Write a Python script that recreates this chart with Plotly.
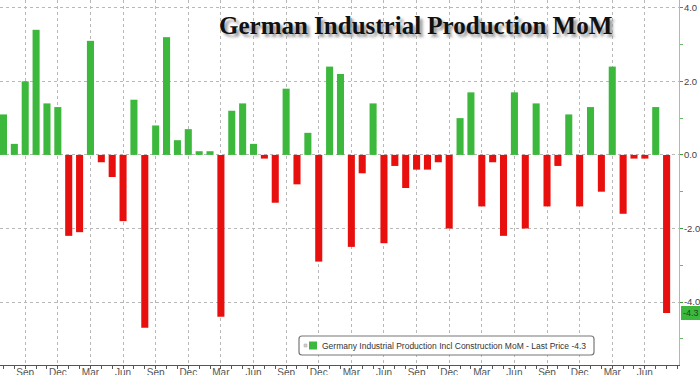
import plotly.graph_objects as go

# Monthly values (Jul of year 1 through Aug of year 6)
month_names = ["Jul", "Aug", "Sep", "Oct", "Nov", "Dec", "Jan", "Feb", "Mar", "Apr", "May", "Jun"]
values = [
    1.1, 0.3, 2.0, 3.4, 1.4, 1.3,
    -2.2, -2.1, 3.1, -0.2, -0.6, -1.8,
    1.5, -4.7, 0.8, 3.2, 0.4, 0.7,
    0.1, 0.1, -4.4, 1.2, 1.4, 0.3,
    -0.1, -1.3, 1.8, -0.8, 0.6, -2.9,
    2.4, 2.2, -2.5, -0.5, 1.4, -2.4,
    -0.3, -0.9, -0.4, -0.4, -0.2, -2.0,
    1.0, 1.7, -1.4, -0.2, -2.2, 1.7,
    -2.0, 1.4, -1.4, -0.3, 1.1, -1.4,
    1.3, -1.0, 2.4, -1.6, -0.1, -0.1,
    1.3, -4.3,
]
months = [month_names[i % 12] for i in range(len(values))]
labeled_months = ["Sep", "Dec", "Mar", "Jun"]
y_ticks = [4.0, 2.0, 0.0, -2.0, -4.0]
last_price = values[-1]
series_name = "Germany Industrial Production Incl Construction MoM - Last Price %.1f" % last_price
title_text = "German Industrial Production MoM"

GREEN = "#3cb83c"
RED = "#e8100e"

# plot area in pixels (for placing the legend box)
W, H = 700, 375
ML, MR, MT, MB = 0, 21, 0, 10
PW, PH = W - ML - MR, H - MT - MB


def px(xp):
    return (xp - ML) / PW


def py(yp):
    return (H - MB - yp) / PH


x = list(range(len(values)))
colors = [GREEN if v >= 0 else RED for v in values]
tickvals = [i for i, m in enumerate(months) if m in labeled_months]
ticktext = [months[i] for i in tickvals]

fig = go.Figure()
fig.add_trace(go.Bar(
    x=x, y=values, name=series_name,
    marker=dict(color=colors, line=dict(width=0)),
    width=0.65, showlegend=False,
))

# rounded legend box
x0, x1, y0, y1, r = 299, 594, 336, 355, 3
rx, ry = r / PW, r / PH
X0, X1, Y0, Y1 = px(x0), px(x1), py(y1), py(y0)
path = (f"M {X0+rx},{Y0} L {X1-rx},{Y0} Q {X1},{Y0} {X1},{Y0+ry} "
        f"L {X1},{Y1-ry} Q {X1},{Y1} {X1-rx},{Y1} L {X0+rx},{Y1} "
        f"Q {X0},{Y1} {X0},{Y1-ry} L {X0},{Y0+ry} Q {X0},{Y0} {X0+rx},{Y0} Z")

shapes = [
    dict(type="path", xref="paper", yref="paper", path=path,
         fillcolor="white", line=dict(color="#777777", width=1.2), layer="above"),
    dict(type="rect", xref="paper", yref="paper",
         x0=px(304), x1=px(307), y0=py(347), y1=py(344),
         fillcolor="#cfcfcf", line=dict(color="#aaaaaa", width=0.5), layer="above"),
    dict(type="rect", xref="paper", yref="paper",
         x0=px(309), x1=px(317), y0=py(349.5), y1=py(341.5),
         fillcolor=GREEN, line=dict(width=0), layer="above"),
]

fig.update_layout(
    width=W, height=H,
    margin=dict(l=ML, r=MR, t=MT, b=MB),
    paper_bgcolor="white", plot_bgcolor="white",
    showlegend=False,
    shapes=shapes,
    xaxis=dict(
        range=[-0.32, 62.14],
        tickmode="array", tickvals=tickvals, ticktext=ticktext,
        showgrid=True, gridcolor="#b8b8b8", griddash="dot", gridwidth=1,
        showline=True, linecolor="#555555", linewidth=1,
        ticks="outside", ticklen=3, tickcolor="#555555",
        minor=dict(dtick=1, tick0=0, ticks="outside", ticklen=3, tickcolor="#555555", showgrid=False),
        tickfont=dict(family="Liberation Sans", size=10, color="#555555"),
        ticklabelstandoff=-5,
        zeroline=False, fixedrange=True, automargin=False,
    ),
    yaxis=dict(
        side="right",
        range=[-5.71, 4.21],
        tickmode="array", tickvals=y_ticks,
        ticktext=["%.1f" % v for v in y_ticks],
        showgrid=True, gridcolor="#b8b8b8", griddash="dot", gridwidth=1,
        showline=True, linecolor="#8fd08f", linewidth=1,
        ticks="outside", ticklen=3, tickcolor="#3c9a3c",
        minor=dict(dtick=1, tick0=0, ticks="outside", ticklen=3, tickcolor="#6ab86a", showgrid=False),
        tickfont=dict(family="Liberation Sans", size=9.5, color="#444444"),
        ticklabelstandoff=-1,
        zeroline=False, fixedrange=True, automargin=False,
    ),
    annotations=[
        dict(
            text="<b>%s</b>" % title_text, xref="paper", yref="paper",
            x=0.612, y=0.93, xanchor="center", yanchor="middle", showarrow=False,
            font=dict(family="Liberation Serif", size=25, color="#111111",
                      shadow="3px 3px 3px #9a9a9a"),
        ),
        dict(
            text=series_name, xref="paper", yref="paper",
            x=px(320), y=py(345.5), xanchor="left", yanchor="middle", showarrow=False,
            font=dict(family="Liberation Sans", size=8.5, color="#333333"),
        ),
        dict(
            text="%.1f" % last_price, xref="paper", yref="y",
            x=1.0, y=last_price, xanchor="left", yanchor="middle", showarrow=False,
            xshift=2,
            bgcolor="#3cb83c", bordercolor="#3cb83c", borderpad=1,
            font=dict(family="Liberation Sans", size=9, color="#1a4d1a"),
        ),
    ],
)

fig.write_html(
    "out.html",
    config={"displayModeBar": False},
    post_script="document.body.style.margin='0';document.body.style.overflow='hidden';",
)
